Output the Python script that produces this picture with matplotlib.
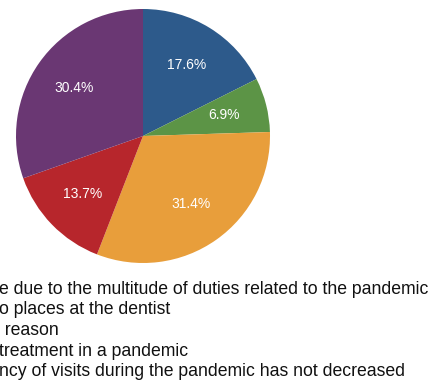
import matplotlib.pyplot as plt

plt.rcParams['font.family'] = ['Liberation Sans', 'DejaVu Sans']

# Slice values (percent), clockwise from 12 o'clock
values = [17.6, 6.9, 31.4, 13.7, 30.4]
colors = ['#2D5A8B', '#5C9446', '#E89E3B', '#B7262C', '#6A3773']

# Legend entries (left part is cut off by the canvas edge in the original)
legend_labels = [
    'e due to the multitude of duties related to the pandemic',
    'o places at the dentist',
    'r reason',
    'treatment in a pandemic',
    'ncy of visits during the pandemic has not decreased',
]
legend_x = [-1, -1, -6, -1, -1]   # left offset of each visible fragment, px

W, H = 441, 385
fig = plt.figure(figsize=(W / 100, H / 100), dpi=100)
fig.patch.set_facecolor('white')

# pie: centre (143, 136) px, radius 127 px
cx, cy, r = 143, 136, 127
ax = fig.add_axes([(cx - r) / W, (H - cy - r) / H, 2 * r / W, 2 * r / H])
wedges, texts, autotexts = ax.pie(
    values, colors=colors, startangle=90, counterclock=False,
    autopct='%.1f%%', pctdistance=0.66, radius=1,
    wedgeprops=dict(linewidth=0),
    textprops=dict(color='white', fontsize=10))
ax.set_xlim(-1, 1)
ax.set_ylim(-1, 1)
ax.set_aspect('equal')
ax.axis('off')

# legend text lines
y0 = 289
step = 20.7
for i, lab in enumerate(legend_labels):
    fig.text(legend_x[i] / W, 1 - (y0 + i * step) / H, lab,
             fontsize=12.7, color='#111111', ha='left', va='center')

plt.savefig('out.png', dpi=100, facecolor='white')
